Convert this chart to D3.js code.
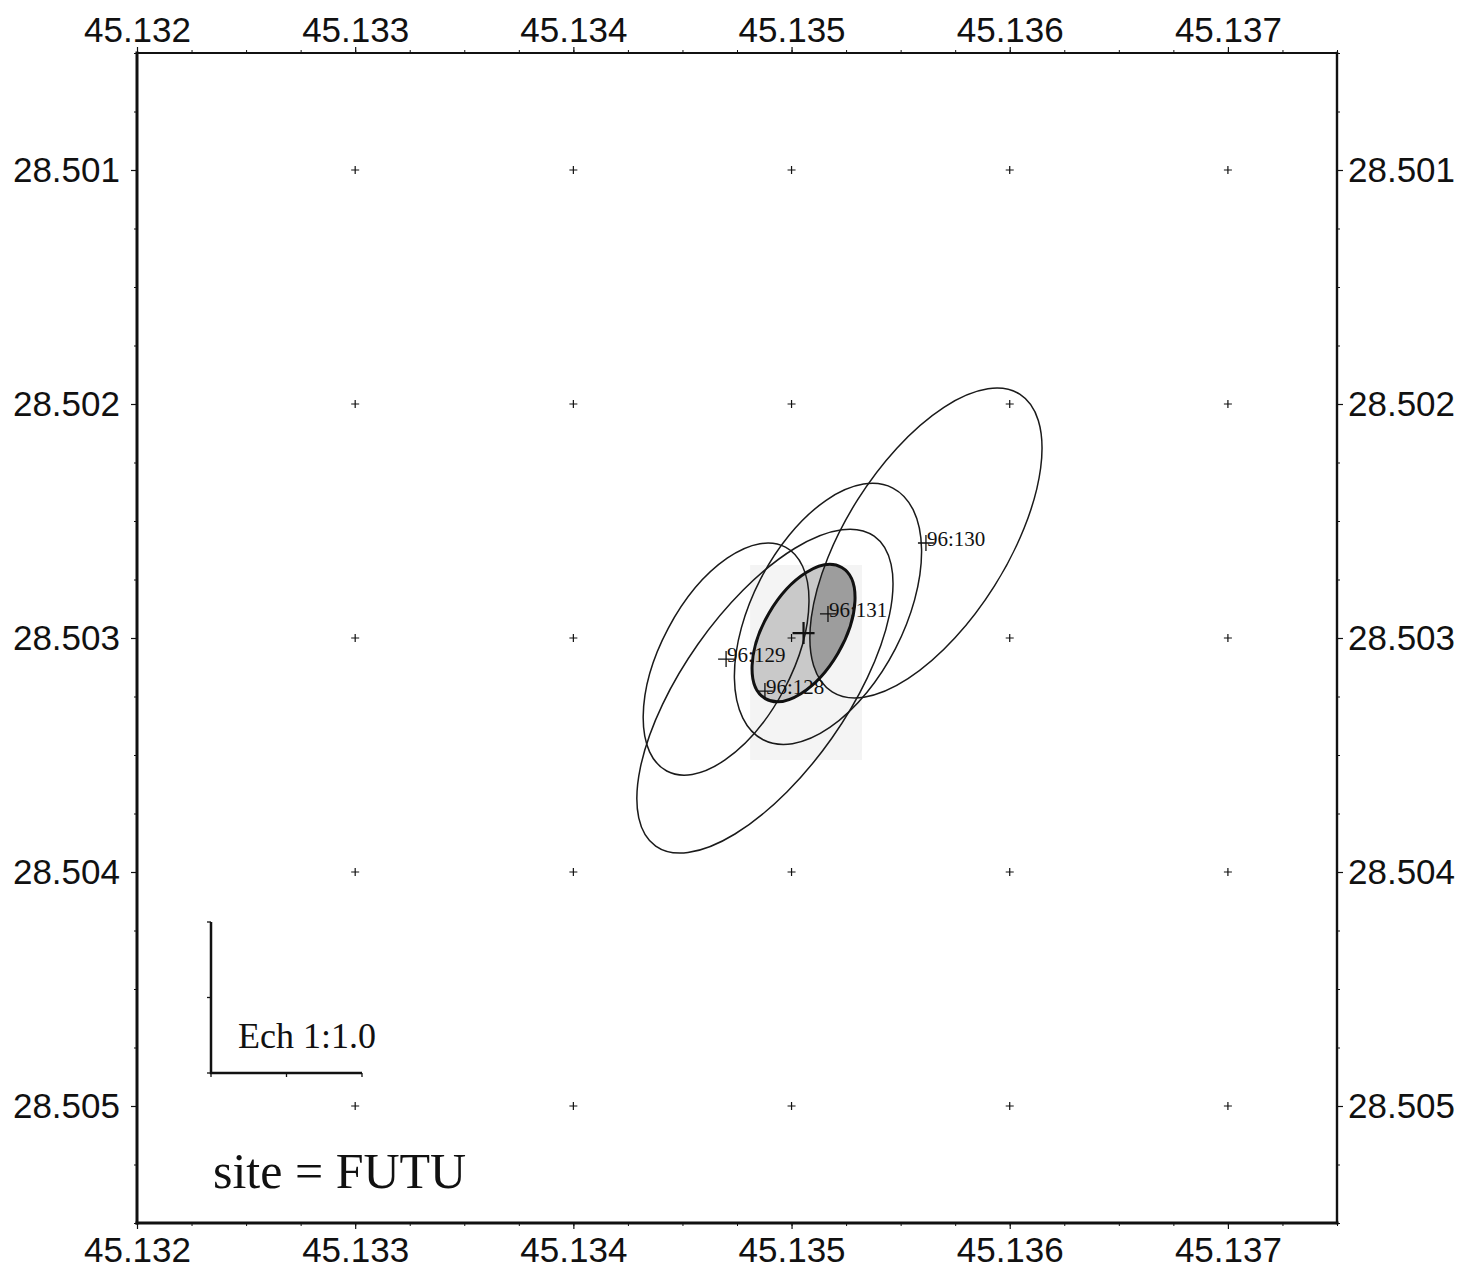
<!DOCTYPE html>
<html>
<head>
<meta charset="utf-8">
<script src="https://cdn.jsdelivr.net/npm/d3@7"></script>
<style>
    body { margin: 0; background: #fff; }
    .tick text { font-family: "Liberation Sans", Arial, sans-serif; font-size: 35px; fill: #111; }
    .tick line { stroke: #111; stroke-width: 1.2; }
    .minor .tick line { stroke-width: 1; }
    .serif { font-family: "Liberation Serif", "Times New Roman", serif; fill: #111; }
</style>
</head>
<body>
<div id="chart"></div>
<script>

// ---- data ----
const sessions = ['96:128', '96:129', '96:130', '96:131'];
const sessLon = [45.134878, 45.134700, 45.135616, 45.135167];
const sessLat = [28.503227, 28.503090, 28.502594, 28.502897];
const sessSigLon = [0.000587, 0.000380, 0.000532, 0.000429];
const sessSigLat = [0.000692, 0.000496, 0.000662, 0.000558];
const sessRho = [-0.664, -0.506, -0.612, -0.476];

// combined solution (shaded ellipse)
const meanLon = 45.135055;
const meanLat = 28.502979;
const meanSigLon = 0.000236;
const meanSigLat = 0.000293;
const meanRho = -0.514;

// faint scan patch behind the combined solution
const patchLon = [45.134810, 45.135323];
const patchLat = [28.502688, 28.503521];

const xTicks = [45.132, 45.133, 45.134, 45.135, 45.136, 45.137];
const yTicks = [28.501, 28.502, 28.503, 28.504, 28.505];
const xDomain = [45.132, 45.1375];
const yDomain = [28.5005, 28.5055];

const siteName = 'FUTU';
const scaleLabel = 'Ech 1:1.0';

// ---- layout ----
const W = 1465, H = 1271;
const plot = {left: 137, right: 1337, top: 53, bottom: 1223};

const svg = d3.select('#chart').append('svg')
    .attr('width', W)
    .attr('height', H);

const x = d3.scaleLinear().domain(xDomain).range([plot.left, plot.right]);
const y = d3.scaleLinear().domain(yDomain).range([plot.top, plot.bottom]);

// minor ticks every quarter of a major step
let minorX = d3.range(0, 23).map(i => 45.132 + i * 0.00025);
let minorY = d3.range(0, 21).map(i => 28.5005 + i * 0.00025);

// turn sigma/correlation into a rotated svg ellipse in pixel space
function ellipseParams(lon, lat, sLon, sLat, rho) {
    let hw = x(lon + sLon) - x(lon);
    let hh = y(lat + sLat) - y(lat);
    let sxx = hw * hw, syy = hh * hh, sxy = rho * hw * hh;
    let half = (sxx + syy) / 2;
    let root = Math.sqrt(half * half - (sxx * syy - sxy * sxy));
    let l1 = half + root, l2 = half - root;
    let angle = Math.atan2(l1 - sxx, sxy) * 180 / Math.PI;
    return {cx: x(lon), cy: y(lat), rx: Math.sqrt(l1), ry: Math.sqrt(l2), angle: angle};
}

let sessData = sessions.map((s, i) => Object.assign({name: s},
    ellipseParams(sessLon[i], sessLat[i], sessSigLon[i], sessSigLat[i], sessRho[i])));
let meanE = ellipseParams(meanLon, meanLat, meanSigLon, meanSigLat, meanRho);

function drawEllipse(sel, e) {
    return sel.append('ellipse')
        .attr('cx', e.cx).attr('cy', e.cy)
        .attr('rx', e.rx).attr('ry', e.ry)
        .attr('transform', `rotate(${e.angle} ${e.cx} ${e.cy})`);
}

// scan patch
svg.append('rect')
    .attr('x', x(patchLon[0]))
    .attr('y', y(patchLat[0]))
    .attr('width', x(patchLon[1]) - x(patchLon[0]))
    .attr('height', y(patchLat[1]) - y(patchLat[0]))
    .attr('fill', '#f4f4f4');

// shaded combined ellipse + darker overlap with 96:130
let defs = svg.append('defs');
drawEllipse(defs.append('clipPath').attr('id', 'meanClip'), meanE);

drawEllipse(svg, meanE).attr('fill', '#c9c9c9').attr('stroke', 'none');
drawEllipse(svg.append('g').attr('clip-path', 'url(#meanClip)'), sessData[2])
    .attr('fill', '#9d9d9d').attr('stroke', 'none');

// session ellipses
sessData.forEach(e => {
    drawEllipse(svg, e)
        .attr('fill', 'none')
        .attr('stroke', '#1a1a1a')
        .attr('stroke-width', 1.5);
});

drawEllipse(svg, meanE)
    .attr('fill', 'none')
    .attr('stroke', '#111')
    .attr('stroke-width', 3);

// grid crosses at major intersections
let gridPts = [];
xTicks.slice(1).forEach(lx => yTicks.forEach(ly => gridPts.push([lx, ly])));

function cross(g, cx, cy, s, w) {
    g.append('path')
        .attr('d', `M${cx - s},${cy}H${cx + s}M${cx},${cy - s}V${cy + s}`)
        .attr('stroke', '#111')
        .attr('stroke-width', w)
        .attr('fill', 'none');
}

let gGrid = svg.append('g');
gridPts.forEach(p => cross(gGrid, x(p[0]), y(p[1]), 4, 1.2));

// session markers and labels
let gMark = svg.append('g');
sessData.forEach(e => {
    cross(gMark, e.cx, e.cy, 8, 1.3);
    gMark.append('text')
        .attr('class', 'serif')
        .attr('x', e.cx + 1)
        .attr('y', e.cy + 3)
        .attr('font-size', 21)
        .text(e.name);
});
cross(gMark, meanE.cx, meanE.cy, 11, 2.2);

// axes
let fmt = d3.format('.3f');
svg.append('g').attr('transform', `translate(0,${plot.top})`)
    .call(d3.axisTop(x).tickValues(xTicks).tickSize(6).tickPadding(5).tickFormat(fmt));
svg.append('g').attr('transform', `translate(0,${plot.bottom})`)
    .call(d3.axisBottom(x).tickValues(xTicks).tickSize(6).tickPadding(8).tickFormat(fmt));
svg.append('g').attr('transform', `translate(${plot.left},0)`)
    .call(d3.axisLeft(y).tickValues(yTicks).tickSize(6).tickPadding(11).tickFormat(fmt));
svg.append('g').attr('transform', `translate(${plot.right},0)`)
    .call(d3.axisRight(y).tickValues(yTicks).tickSize(6).tickPadding(5).tickFormat(fmt));

svg.append('g').attr('class', 'minor').attr('transform', `translate(0,${plot.top})`)
    .call(d3.axisTop(x).tickValues(minorX).tickSize(3).tickFormat(''));
svg.append('g').attr('class', 'minor').attr('transform', `translate(0,${plot.bottom})`)
    .call(d3.axisBottom(x).tickValues(minorX).tickSize(3).tickFormat(''));
svg.append('g').attr('class', 'minor').attr('transform', `translate(${plot.left},0)`)
    .call(d3.axisLeft(y).tickValues(minorY).tickSize(3).tickFormat(''));
svg.append('g').attr('class', 'minor').attr('transform', `translate(${plot.right},0)`)
    .call(d3.axisRight(y).tickValues(minorY).tickSize(3).tickFormat(''));

svg.selectAll('.domain').remove();

// frame
let frame = [
    [plot.left, plot.top, plot.right, plot.top, 2.2],
    [plot.right, plot.top, plot.right, plot.bottom, 2.4],
    [plot.left, plot.bottom, plot.right, plot.bottom, 3],
    [plot.left, plot.top, plot.left, plot.bottom, 3]
];
svg.selectAll('.frame').data(frame).enter().append('line')
    .attr('class', 'frame')
    .attr('x1', d => d[0]).attr('y1', d => d[1])
    .attr('x2', d => d[2]).attr('y2', d => d[3])
    .attr('stroke', '#111')
    .attr('stroke-width', d => d[4])
    .attr('stroke-linecap', 'square');

// scale bar
let bar = {x: 211, y: 1073, len: 151};
let gBar = svg.append('g').attr('stroke', '#111').attr('fill', 'none');
gBar.append('path')
    .attr('d', `M${bar.x},${bar.y - bar.len}V${bar.y}H${bar.x + bar.len}`)
    .attr('stroke-width', 2.5);
[0, 0.5, 1].forEach(f => {
    gBar.append('line')
        .attr('x1', bar.x - 4).attr('x2', bar.x)
        .attr('y1', bar.y - f * bar.len).attr('y2', bar.y - f * bar.len)
        .attr('stroke-width', 1.3);
    gBar.append('line')
        .attr('x1', bar.x + f * bar.len).attr('x2', bar.x + f * bar.len)
        .attr('y1', bar.y).attr('y2', bar.y + 4)
        .attr('stroke-width', 1.3);
});

svg.append('text')
    .attr('class', 'serif')
    .attr('x', 238).attr('y', 1048)
    .attr('font-size', 36)
    .text(scaleLabel);

svg.append('text')
    .attr('class', 'serif')
    .attr('x', 213).attr('y', 1188)
    .attr('font-size', 50)
    .text('site = ' + siteName);

</script>
</body>
</html>
